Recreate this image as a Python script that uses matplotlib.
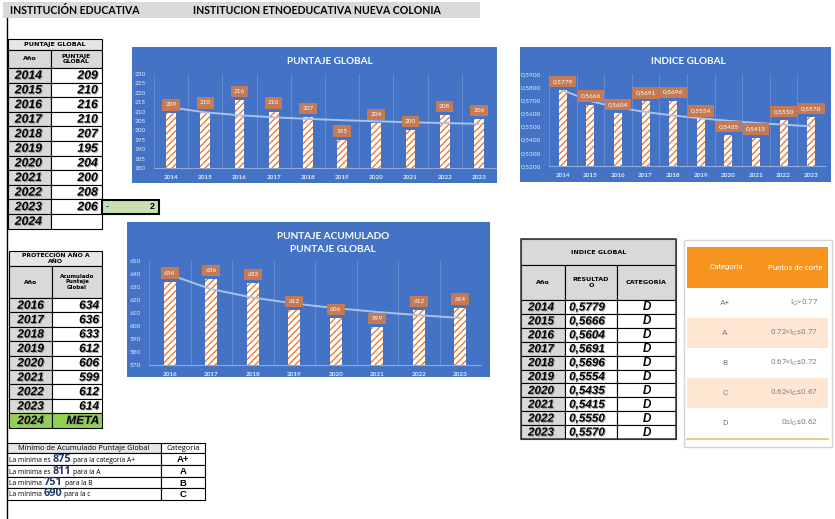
import matplotlib
matplotlib.use('Agg')
import matplotlib.pyplot as plt
import numpy as np
from matplotlib.patches import Rectangle
from matplotlib.lines import Line2D
import matplotlib.patheffects as pe

plt.rcParams['font.family'] = ['Lato', 'DejaVu Sans']

# ---------------- data ----------------
institucion = "INSTITUCION ETNOEDUCATIVA NUEVA COLONIA"
years_pg = ['2014', '2015', '2016', '2017', '2018', '2019', '2020', '2021', '2022', '2023']
puntaje_global = [209, 210, 216, 210, 207, 195, 204, 200, 208, 206]
indice_global = [0.5779, 0.5666, 0.5604, 0.5691, 0.5696, 0.5554, 0.5435, 0.5415, 0.5550, 0.5570]
categoria_ig = ['D', 'D', 'D', 'D', 'D', 'D', 'D', 'D', 'D', 'D']
years_acum = ['2016', '2017', '2018', '2019', '2020', '2021', '2022', '2023']
puntaje_acum = [634, 636, 633, 612, 606, 599, 612, 614]
diferencia = -2
pg_ticks = [180, 185, 190, 195, 200, 205, 210, 215, 220, 225, 230]
ig_ticks = [0.52, 0.53, 0.54, 0.55, 0.56, 0.57, 0.58, 0.59]
ac_ticks = [570, 580, 590, 600, 610, 620, 630, 640, 650]
min_prefix = ['La mínima es', 'La mínima es', 'La mínima', 'La mínima']
min_values = [875, 811, 751, 690]
min_suffix = ['para la categoría A+', 'para la A', 'para la B', 'para la c']
min_cats = ['A+', 'A', 'B', 'C']
cut_cats = ['A+', 'A', 'B', 'C', 'D']
cut_points = [r'I$_G$>0.77', r'0.72<I$_G$≤0.77', r'0.67<I$_G$≤0.72', r'0.62<I$_G$≤0.67', r'0≤I$_G$≤0.62']

# ---------------- helpers ----------------
W, H = 835, 519
fig = plt.figure(figsize=(W / 100, H / 100), dpi=100)
fig.patch.set_facecolor('white')

BLUE = '#4472c4'
ORANGE = '#ed7d31'
GRID = '#6a8fd2'
AXIS = '#8eaadb'
TREND = '#a8c2ea'
TICK = '#e4ebf7'
LBL = '#c47a55'
GRAY = '#d9d9d9'


def rect(x0, y0, x1, y1, fc='none', ec='none', lw=0.8, z=1):
    fig.add_artist(Rectangle((x0 / W, 1 - y1 / H), (x1 - x0) / W, (y1 - y0) / H,
                             transform=fig.transFigure, facecolor=fc, edgecolor=ec,
                             linewidth=lw, zorder=z))


def line(x0, y0, x1, y1, color='black', lw=1.0, z=2):
    fig.add_artist(Line2D([x0 / W, x1 / W], [1 - y0 / H, 1 - y1 / H],
                          transform=fig.transFigure, color=color, lw=lw, zorder=z))


def txt(x, y, s, **kw):
    kw.setdefault('ha', 'center')
    kw.setdefault('va', 'center')
    kw.setdefault('zorder', 5)
    return fig.text(x / W, 1 - y / H, s, **kw)


NUMFONT = dict(family=['Liberation Sans', 'DejaVu Sans'], style='italic', weight='bold')
SHADOW = [pe.withSimplePatchShadow(offset=(0.7, -0.7), shadow_rgbFace='#8a8a8a', alpha=0.8)]
HEADFONT = dict(family=['DejaVu Sans'], weight='bold')
LIGHT = ['Roboto', 'DejaVu Sans']

# ---------------- header ----------------
rect(3, 2, 480, 18, fc=GRAY, z=0)
txt(10, 11, 'INSTITUCIÓN EDUCATIVA', ha='left', fontsize=7.6, weight='bold')
txt(193, 11, institucion, ha='left', fontsize=7.6, weight='bold')
line(7, 18, 7, 519, lw=1.0)


# ---------------- charts ----------------
def chart(box, plot, cats, vals, ylim, yticks, yfmt, lfmt, titles, title_x, title_y, bw):
    x0, y0, x1, y1 = box
    rect(x0, y0, x1, y1, fc=BLUE, z=0)
    for tl, ty in zip(titles, title_y):
        txt(title_x, ty, tl, color='white', fontsize=7.2, weight='bold')
    l, t, r, b = plot
    ax = fig.add_axes([l / W, 1 - b / H, (r - l) / W, (b - t) / H])
    ax.set_facecolor('none')
    x = np.arange(len(cats))
    ax.bar(x, vals, width=bw, color='white', edgecolor=ORANGE, hatch='/////', linewidth=0, zorder=2)
    lx = np.log(x + 1)
    k, c = np.polyfit(lx, vals, 1)
    ax.plot(x, k * lx + c, color=TREND, lw=1.4, zorder=3, solid_capstyle='butt')
    for xi, v in zip(x, vals):
        ax.annotate(lfmt(v), (xi, v), xytext=(0, 6.2), textcoords='offset points',
                    ha='center', va='center', color='white', fontsize=4.6,
                    bbox=dict(boxstyle='square,pad=0.5', fc=LBL, ec='none'), zorder=4,
                    annotation_clip=False)
    ax.set_xlim(-0.5, len(cats) - 0.5)
    ax.set_ylim(*ylim)
    ax.set_yticks(yticks)
    ax.set_yticklabels([yfmt(v) for v in yticks])
    ax.set_xticks(x)
    ax.set_xticklabels(cats, weight='bold')
    ax.set_xticks(np.arange(len(cats) + 1) - 0.5, minor=True)
    ax.grid(True, which='minor', axis='x', color=GRID, lw=0.6, zorder=0)
    ax.tick_params(which='both', length=0, colors=TICK, labelsize=4.6)
    ax.tick_params(axis='x', pad=5)
    ax.tick_params(axis='y', pad=6)
    for s in ['top', 'right', 'left']:
        ax.spines[s].set_visible(False)
    ax.spines['bottom'].set_color(AXIS)
    ax.spines['bottom'].set_linewidth(0.8)
    return ax


chart((132, 47, 497, 183), (154, 74, 496, 168), years_pg, puntaje_global, (180, 230), pg_ticks,
      lambda v: f'{v:d}', lambda v: f'{v:d}', ['PUNTAJE GLOBAL'], 330, [62], 0.29)
chart((520, 47, 831, 182), (549, 74, 825, 166), years_pg, indice_global, (0.52, 0.59), ig_ticks,
      lambda v: f'{v:.4f}'.replace('.', ','), lambda v: f'{v:.4f}'.replace('.', ','),
      ['INDICE GLOBAL'], 688, [62], 0.29)
chart((127, 222, 490, 377), (149, 261, 481, 365), years_acum, puntaje_acum, (570, 650), ac_ticks,
      lambda v: f'{v:d}', lambda v: f'{v:d}', ['PUNTAJE ACUMULADO', 'PUNTAJE GLOBAL'], 333, [237, 250], 0.28)

# ---------------- table 1: PUNTAJE GLOBAL ----------------
c0, c1, c2 = 8, 51, 102
rect(c0, 39, c2, 50, fc='#e7e6e6', ec='black', lw=0.8)
txt((c0 + c2) / 2, 44.5, 'PUNTAJE GLOBAL', fontsize=4.6, **HEADFONT)
rect(c0, 50, c1, 68, fc=GRAY, ec='black', lw=0.8)
rect(c1, 50, c2, 68, fc=GRAY, ec='black', lw=0.8)
txt((c0 + c1) / 2, 59, 'Año', fontsize=4.6, **HEADFONT)
txt((c1 + c2) / 2, 59, 'PUNTAJE\nGLOBAL', fontsize=4.4, linespacing=1.1, **HEADFONT)
t1_years = years_pg + ['2024']
rh = 14.6
for i, yr in enumerate(t1_years):
    ya = 68 + i * rh
    rect(c0, ya, c1, ya + rh, fc=GRAY, ec='black', lw=0.8)
    rect(c1, ya, c2, ya + rh, fc='white', ec='black', lw=0.8)
    txt((c0 + c1) / 2 - 1, ya + rh / 2 + 0.5, yr, fontsize=8.8, path_effects=SHADOW, **NUMFONT)
    if i < len(puntaje_global):
        txt(c2 - 4, ya + rh / 2 + 0.5, str(puntaje_global[i]), ha='right', fontsize=8.8,
            path_effects=SHADOW, **NUMFONT)
# green difference box
rect(102, 199.5, 159, 213.5, fc='#c6e0b4', ec='black', lw=1.5, z=3)
txt(106, 206.5, '-' if diferencia < 0 else '', ha='left', fontsize=6, weight='bold', family=['Liberation Sans'])
txt(155, 206.5, str(abs(diferencia)), ha='right', fontsize=6.5, weight='bold', family=['Liberation Sans'])

# ---------------- table 2: PROTECCION ----------------
c0, c1, c2 = 9, 52, 102
rect(c0, 251, c2, 266, fc='#e7e6e6', ec='black', lw=0.8)
txt((c0 + c2) / 2, 258.5, 'PROTECCIÓN AÑO A\nAÑO', fontsize=4.4, linespacing=1.05, **HEADFONT)
rect(c0, 266, c1, 298, fc=GRAY, ec='black', lw=0.8)
rect(c1, 266, c2, 298, fc=GRAY, ec='black', lw=0.8)
txt((c0 + c1) / 2, 282, 'Año', fontsize=4.4, **HEADFONT)
txt((c1 + c2) / 2, 282, 'Acumulado\nPuntaje\nGlobal', fontsize=4.0, linespacing=1.15, **HEADFONT)
rh = 14.4
t2_years = years_acum + ['2024']
for i, yr in enumerate(t2_years):
    ya = 298 + i * rh
    last = i == len(years_acum)
    fc1 = '#92d050' if last else GRAY
    fc2 = '#92d050' if last else 'white'
    rect(c0, ya, c1, ya + rh, fc=fc1, ec='black', lw=0.8)
    rect(c1, ya, c2, ya + rh, fc=fc2, ec='black', lw=0.8)
    txt((c0 + c1) / 2, ya + rh / 2 + 0.5, yr, fontsize=8.6, path_effects=SHADOW, **NUMFONT)
    val = 'META' if last else str(puntaje_acum[i])
    txt(c2 - 3, ya + rh / 2 + 0.5, val, ha='right', fontsize=8.6, path_effects=SHADOW, **NUMFONT)

# ---------------- table 3: minimos ----------------
c0, c1, c2 = 7, 161, 205
rows = [443, 453, 465, 477, 488, 500]
rect(c0, rows[0], c1, rows[1], fc='#e7e6e6', ec='black', lw=0.8)
rect(c1, rows[0], c2, rows[1], fc='white', ec='black', lw=0.8)
txt((c0 + c1) / 2, 448, 'Mínimo de Acumulado Puntaje Global', fontsize=5.4, family=['Open Sans', 'DejaVu Sans'])
txt((c1 + c2) / 2, 448, 'Categoría', fontsize=5.4, family=['Open Sans', 'DejaVu Sans'])
renderer = fig.canvas.get_renderer()
for i in range(4):
    ya, yb = rows[i + 1], rows[i + 2]
    rect(c0, ya, c1, yb, fc='white', ec='black', lw=0.8)
    rect(c1, ya, c2, yb, fc='white', ec='black', lw=0.8)
    yb_line = (ya + yb) / 2 + 2.5
    t_a = txt(9, yb_line, min_prefix[i], ha='left', va='baseline', fontsize=4.9,
              family=['Open Sans', 'DejaVu Sans'])
    xa = t_a.get_window_extent(renderer).x1 + 2
    t_b = txt(xa, yb_line, str(min_values[i]), ha='left', va='baseline', fontsize=7.8,
              weight='bold', color='#1f3864', family=['Open Sans', 'DejaVu Sans'])
    xb = t_b.get_window_extent(renderer).x1 + 2
    txt(xb, yb_line, min_suffix[i], ha='left', va='baseline', fontsize=4.9,
        family=['Open Sans', 'DejaVu Sans'])
    txt((c1 + c2) / 2, (ya + yb) / 2 + 0.5, min_cats[i], fontsize=6.8, weight='bold',
        family=['Liberation Sans'])

# ---------------- table 4: INDICE GLOBAL ----------------
cx = [521, 565, 617, 676]
rect(cx[0], 239, cx[3], 265, fc=GRAY, ec='#404040', lw=0.8)
txt((cx[0] + cx[3]) / 2, 252, 'INDICE GLOBAL', fontsize=4.6, **HEADFONT)
for j in range(3):
    rect(cx[j], 265, cx[j + 1], 300, fc=GRAY, ec='black', lw=0.8)
txt((cx[0] + cx[1]) / 2, 282.5, 'Año', fontsize=4.6, **HEADFONT)
txt((cx[1] + cx[2]) / 2, 282.5, 'RESULTAD\nO', fontsize=4.6, linespacing=1.2, **HEADFONT)
txt((cx[2] + cx[3]) / 2, 282.5, 'CATEGORÍA', fontsize=4.6, **HEADFONT)
rh = 13.9
for i, yr in enumerate(years_pg):
    ya = 300 + i * rh
    rect(cx[0], ya, cx[1], ya + rh, fc=GRAY, ec='black', lw=0.8)
    rect(cx[1], ya, cx[2], ya + rh, fc='white', ec='black', lw=0.8)
    rect(cx[2], ya, cx[3], ya + rh, fc='white', ec='black', lw=0.8)
    yc = ya + rh / 2 + 0.5
    txt((cx[0] + cx[1]) / 2 - 2, yc, yr, fontsize=8.4, path_effects=SHADOW, **NUMFONT)
    txt((cx[1] + cx[2]) / 2 - 4, yc, f'{indice_global[i]:.4f}'.replace('.', ','), fontsize=8.4,
        path_effects=SHADOW, **NUMFONT)
    txt((cx[2] + cx[3]) / 2, yc, categoria_ig[i], fontsize=8.4, **NUMFONT)
rect(cx[0], 239, cx[3], 300 + 10 * rh, fc='none', ec='#404040', lw=1.2, z=3)

# ---------------- table 5: puntos de corte ----------------
rect(684, 240, 832, 447, fc='white', ec='#d4d4d4', lw=1.0, z=0)
rect(687, 247, 828, 288, fc='#f7941d', z=1)
txt(726, 267.5, 'Categoria', color='white', fontsize=5.6, family=LIGHT)
txt(795, 267.5, 'Puntos de corte', color='white', fontsize=5.6, family=LIGHT)
bounds = [288, 318, 348, 378, 408, 438]
for i in range(5):
    fc = '#fde7d2' if i % 2 == 1 else 'white'
    rect(687, bounds[i], 828, bounds[i + 1], fc=fc, z=1)
    yc = (bounds[i] + bounds[i + 1]) / 2
    txt(725, yc, cut_cats[i], color='#7f7f7f', fontsize=6.0, family=LIGHT)
    txt(818, yc, cut_points[i], ha='right', color='#7f7f7f', fontsize=5.8, family=LIGHT)
line(687, 438.5, 828, 438.5, color='#f7c68a', lw=1.5)

fig.savefig('out.png', dpi=100, facecolor='white')
